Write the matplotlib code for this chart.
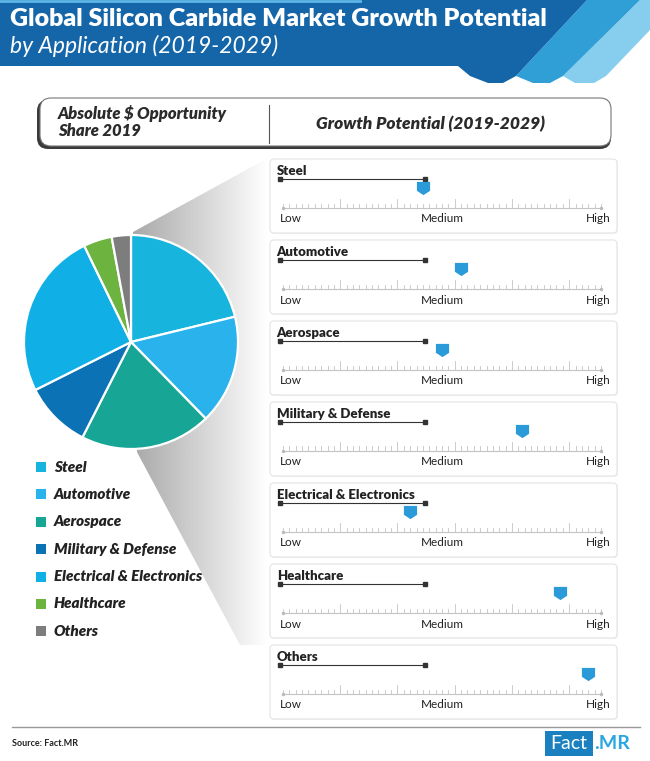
import matplotlib.pyplot as plt
import numpy as np
from matplotlib.patches import Polygon, FancyBboxPatch, Rectangle

plt.rcParams['font.family'] = ['Lato', 'DejaVu Sans']

# =============================================================================
# Data
# =============================================================================
APPLICATIONS = ['Steel', 'Automotive', 'Aerospace', 'Military & Defense',
                'Electrical & Electronics', 'Healthcare', 'Others']
SHARE_2019 = [21.2, 16.5, 19.8, 10.1, 25.2, 4.3, 2.9]
# growth potential on a 0 (Low) .. 100 (High) scale
GROWTH = [44, 56, 50, 75, 40, 87, 96]
COLORS = ['#17b5de', '#29b2ec', '#17a596', '#0b72b5', '#10b0e6', '#6cb33f',
          '#7d7d7d']
SCALE_LABELS = ['Low', 'Medium', 'High']

W, H = 650, 761
fig = plt.figure(figsize=(W / 100, H / 100), dpi=100)
bg = fig.add_axes([0, 0, 1, 1])
bg.set_xlim(0, W)
bg.set_ylim(H, 0)
bg.axis('off')

# =============================================================================
# Header banner
# =============================================================================
bg.add_patch(Polygon([(640, 0), (660, 0), (650, 30), (606, 76), (594, 83),
                      (575, 83), (563, 76)], closed=True, fc='#86cdee',
                     ec='none'))
bg.add_patch(Polygon([(587, 0), (640, 0), (563, 76), (550, 83), (533, 83),
                      (516, 76)], closed=True, fc='#2f9fd6', ec='none'))
bg.add_patch(Polygon([(0, 0), (587, 0), (516, 76), (503, 83), (488, 83),
                      (470, 76), (458, 66), (0, 66)], closed=True,
                     fc='#1466a9', ec='none'))
bg.plot([0, 360], [1, 1], color='#5fb6e6', lw=2)
bg.text(10, 19, 'Global Silicon Carbide Market Growth Potential',
        color='white', fontsize=18, fontweight='heavy', va='center')
bg.text(10, 46, 'by Application (2019-2029)', color='white', fontsize=16.5,
        style='italic', va='center')

# =============================================================================
# Section header box
# =============================================================================
bg.add_patch(FancyBboxPatch((37, 100), 574, 49,
                            boxstyle='round,pad=0,rounding_size=11',
                            fc='#3a3a3a', ec='none'))
bg.add_patch(FancyBboxPatch((40, 98), 571, 48,
                            boxstyle='round,pad=0,rounding_size=11',
                            fc='white', ec='#777777', lw=0.8))
bg.plot([269, 269], [105, 143], color='#555555', lw=0.8)
bg.text(58, 122, 'Absolute $ Opportunity\nShare 2019', fontsize=12,
        fontweight='heavy', style='italic', color='#2b2b2b', va='center',
        linespacing=1.0)
bg.text(430, 124, 'Growth Potential (2019-2029)', fontsize=12.5,
        fontweight='heavy', style='italic', color='#2b2b2b', va='center',
        ha='center')

# =============================================================================
# Gray gradient shadow behind pie
# =============================================================================
shadow = Polygon([(133, 232), (268, 158), (268, 645), (240, 645),
                  (137, 452)], closed=True, fc='none', ec='none')
bg.add_patch(shadow)
grad = np.linspace(0.66, 1.0, 256).reshape(1, -1)
im = bg.imshow(grad, cmap='gray', vmin=0, vmax=1, aspect='auto',
               extent=(133, 268, 645, 158), zorder=1)
im.set_clip_path(shadow)
bg.set_xlim(0, W)
bg.set_ylim(H, 0)

# =============================================================================
# Pie
# =============================================================================
cx, cy, r = 131, 342, 107
pie_ax = fig.add_axes([(cx - r) / W, 1 - (cy + r) / H, 2 * r / W, 2 * r / H])
pie_ax.pie(SHARE_2019, colors=COLORS, startangle=90, counterclock=False,
           wedgeprops=dict(edgecolor='white', linewidth=1.6))
pie_ax.set_xlim(-1, 1)
pie_ax.set_ylim(-1, 1)
pie_ax.patch.set_alpha(0)

# Legend
for i, (name, col) in enumerate(zip(APPLICATIONS, COLORS)):
    y = 467 + i * 27.4
    bg.add_patch(Rectangle((36, y - 5), 10, 10, fc=col, ec='none', zorder=3))
    bg.text(54, y, name, fontsize=11, fontweight='heavy', style='italic',
            color='#222222', va='center', zorder=3)

# =============================================================================
# Growth potential panels
# =============================================================================
shield = [(-1, 1), (1, 1), (1, -0.35), (0, -1), (-1, -0.35), (-1, 1)]
x0, x1 = 283, 601
for i, (name, val) in enumerate(zip(APPLICATIONS, GROWTH)):
    top = 159 + i * 81
    bg.add_patch(FancyBboxPatch((271, top + 1), 347, 74,
                                boxstyle='round,pad=0,rounding_size=4',
                                fc='#f2f2f2', ec='none', zorder=1))
    bg.add_patch(FancyBboxPatch((270, top), 347, 74,
                                boxstyle='round,pad=0,rounding_size=4',
                                fc='white', ec='#e4e4e4', lw=0.8, zorder=2))
    # panel axes: x maps 0..100 onto the scale, y in pixels from panel top
    ax = fig.add_axes([270 / W, 1 - (top + 74) / H, 348 / W, 74 / H])
    ax.set_xlim(-(x0 - 270) * 100 / (x1 - x0),
                (618 - x0) * 100 / (x1 - x0))
    ax.set_ylim(74, 0)
    ax.axis('off')
    ax.patch.set_alpha(0)
    ax.text(-2, 12, name, fontsize=9.5, fontweight='heavy', color='#222222',
            va='center')
    ax.plot([-1, 44.5], [20, 20], color='#333333', lw=0.8, marker='s',
            ms=2.5)
    ticks = np.arange(0, 101, 2)
    for t in ticks:
        k = int(t // 2)
        h = 9 if (k % 9 == 0 and 0 < k < 50) else 4.5
        ax.plot([t, t], [49, 49 - h], color='#c4c4c4', lw=0.6)
    ax.plot([0, 100], [49, 49], color='#c4c4c4', lw=0.8)
    ax.plot([0, 100], [49, 49], ls='none', marker='o', ms=1.5,
            color='#bbbbbb')
    ax.plot([val], [29], marker=shield, ms=9.5, color='#2a9ad8', mec='none')
    ax.text(-1, 60, SCALE_LABELS[0], fontsize=8.5, color='#222222',
            va='center', ha='left')
    ax.text(50, 60, SCALE_LABELS[1], fontsize=8.5, color='#222222',
            va='center', ha='center')
    ax.text(103, 60, SCALE_LABELS[2], fontsize=8.5, color='#222222',
            va='center', ha='right')

# =============================================================================
# Footer
# =============================================================================
bg.plot([12, 640], [727, 727], color='#9a9a9a', lw=1)
bg.text(12, 743, 'Source: Fact.MR', fontsize=6.5, fontweight='bold',
        color='#222222', va='center')
bg.add_patch(Rectangle((545, 731), 48, 25, fc='#1a80c0', ec='none'))
bg.text(569, 743.5, 'Fact', fontsize=14, color='white', va='center',
        ha='center')
bg.text(594, 743.5, '.MR', fontsize=14, fontweight='bold', color='#29a7e0',
        va='center', ha='left')

plt.savefig('out.png', dpi=100)
